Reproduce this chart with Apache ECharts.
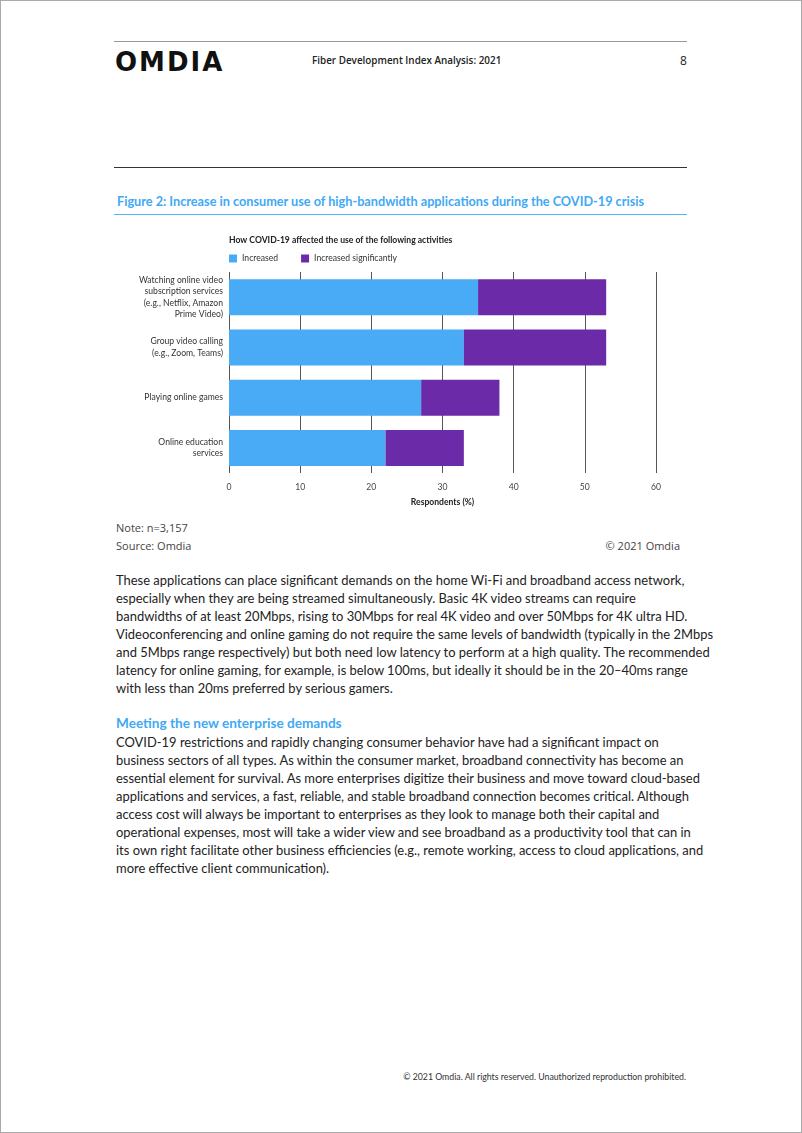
<!DOCTYPE html>
<html>
<head>
<meta charset="utf-8">
<script src="https://cdn.jsdelivr.net/npm/echarts@6/dist/echarts.min.js"></script>
<style>
  html, body { margin: 0; padding: 0; background: #fff; }
  #page { position: relative; width: 802px; height: 1133px; box-sizing: border-box; border: 1px solid #aaa; overflow: hidden; }
  .abs { position: absolute; white-space: nowrap; }
  .rule { position: absolute; left: 113px; width: 573px; height: 0; }
  .body { font-family: Lato, "Noto Sans", sans-serif; font-size: 12.95px; line-height: 18px; color: #222; }
  #chart { position: absolute; left: 113px; top: 225px; width: 573px; height: 290px; }
</style>
</head>
<body>
<div id="page">
  <div class="rule" style="top:40px; border-top:1px solid #999;"></div>
  <div class="abs" style="left:114px; top:46px; font-family:'DejaVu Sans',sans-serif; font-weight:bold; font-size:26px; letter-spacing:2px; color:#111;">OMDIA</div>
  <div class="abs" style="left:311px; top:52px; font-family:'Open Sans',sans-serif; font-weight:600; font-size:9.9px; color:#222;">Fiber Development Index Analysis: 2021</div>
  <div class="abs" style="left:679px; top:51px; font-family:'Open Sans',sans-serif; font-size:12px; color:#222;">8</div>
  <div class="rule" style="top:166px; border-top:1px solid #333;"></div>

  <div class="abs" style="left:116px; top:192px; font-family:Lato,sans-serif; font-weight:bold; font-size:12.7px; color:#3fa9f5;">Figure 2: Increase in consumer use of high-bandwidth applications during the COVID-19 crisis</div>
  <div class="rule" style="top:213px; border-top:1px solid #5ab4f2;"></div>

  <div id="chart"></div>

  <div class="abs" style="left:115px; top:518px; font-family:'Open Sans',sans-serif; font-size:11px; line-height:18px; color:#444;">Note: n=3,157<br>Source: Omdia</div>
  <div class="abs" style="right:121px; top:536px; font-family:'Open Sans',sans-serif; font-size:11px; line-height:18px; color:#444;">© 2021 Omdia</div>

  <div class="abs body" style="left:115px; top:570px;">These applications can place significant demands on the home Wi-Fi and broadband access network,<br>especially when they are being streamed simultaneously. Basic 4K video streams can require<br>bandwidths of at least 20Mbps, rising to 30Mbps for real 4K video and over 50Mbps for 4K ultra HD.<br>Videoconferencing and online gaming do not require the same levels of bandwidth (typically in the 2Mbps<br>and 5Mbps range respectively) but both need low latency to perform at a high quality. The recommended<br>latency for online gaming, for example, is below 100ms, but ideally it should be in the 20–40ms range<br>with less than 20ms preferred by serious gamers.</div>

  <div class="abs" style="left:115px; top:714px; font-family:Lato,sans-serif; font-weight:bold; font-size:13.6px; color:#3fa9f5;">Meeting the new enterprise demands</div>

  <div class="abs body" style="left:115px; top:732px;">COVID-19 restrictions and rapidly changing consumer behavior have had a significant impact on<br>business sectors of all types. As within the consumer market, broadband connectivity has become an<br>essential element for survival. As more enterprises digitize their business and move toward cloud-based<br>applications and services, a fast, reliable, and stable broadband connection becomes critical. Although<br>access cost will always be important to enterprises as they look to manage both their capital and<br>operational expenses, most will take a wider view and see broadband as a productivity tool that can in<br>its own right facilitate other business efficiencies (e.g., remote working, access to cloud applications, and<br>more effective client communication).</div>

  <div class="abs" style="right:115px; top:1070px; font-family:Lato,sans-serif; font-size:8.75px; color:#333;">© 2021 Omdia. All rights reserved. Unauthorized reproduction prohibited.</div>
</div>
<script>
const categories = [
  "Watching online video\nsubscription services\n(e.g., Netflix, Amazon\nPrime Video)",
  "Group video calling\n(e.g., Zoom, Teams)",
  "Playing online games",
  "Online education\nservices"
];
const increased = [35, 33, 27, 22];
const increasedSignificantly = [18, 20, 11, 11];
const xTicks = [0, 10, 20, 30, 40, 50, 60];

const chart = echarts.init(document.getElementById('chart'));
const font = 'Lato, sans-serif';
chart.setOption({
  animation: false,
  title: {
    text: 'How COVID-19 affected the use of the following activities',
    left: 115, top: 10, padding: 0,
    textStyle: { fontFamily: font, fontWeight: 'bold', fontSize: 8.6, color: '#222' }
  },
  legend: {
    left: 115, top: 28, padding: 0,
    itemWidth: 8, itemHeight: 8, itemGap: 23,
    icon: 'rect',
    textStyle: { fontFamily: font, fontSize: 8.6, color: '#333' },
    data: ['Increased', 'Increased significantly']
  },
  grid: { left: 115, right: 31, top: 46, bottom: 43, containLabel: false },
  xAxis: {
    type: 'value', min: xTicks[0], max: xTicks[xTicks.length - 1], interval: 10,
    name: 'Respondents (%)', nameLocation: 'middle', nameGap: 25,
    nameTextStyle: { fontFamily: font, fontWeight: 'bold', fontSize: 8.6, color: '#222' },
    axisLine: { show: false }, axisTick: { show: false },
    axisLabel: { fontFamily: font, fontSize: 8.6, color: '#444', margin: 10 },
    splitLine: { show: true, lineStyle: { color: '#555', width: 1 } }
  },
  yAxis: {
    type: 'category', inverse: true, data: categories,
    axisLine: { show: false }, axisTick: { show: false },
    axisLabel: { fontFamily: font, fontSize: 8.6, lineHeight: 11.5, color: '#333', margin: 6, align: 'right' }
  },
  series: [
    { name: 'Increased', type: 'bar', stack: 'a', data: increased, barWidth: 36,
      itemStyle: { color: '#49aaf6' } },
    { name: 'Increased significantly', type: 'bar', stack: 'a', data: increasedSignificantly, barWidth: 36,
      itemStyle: { color: '#6b2ba8' } }
  ]
});
</script>
</body>
</html>
